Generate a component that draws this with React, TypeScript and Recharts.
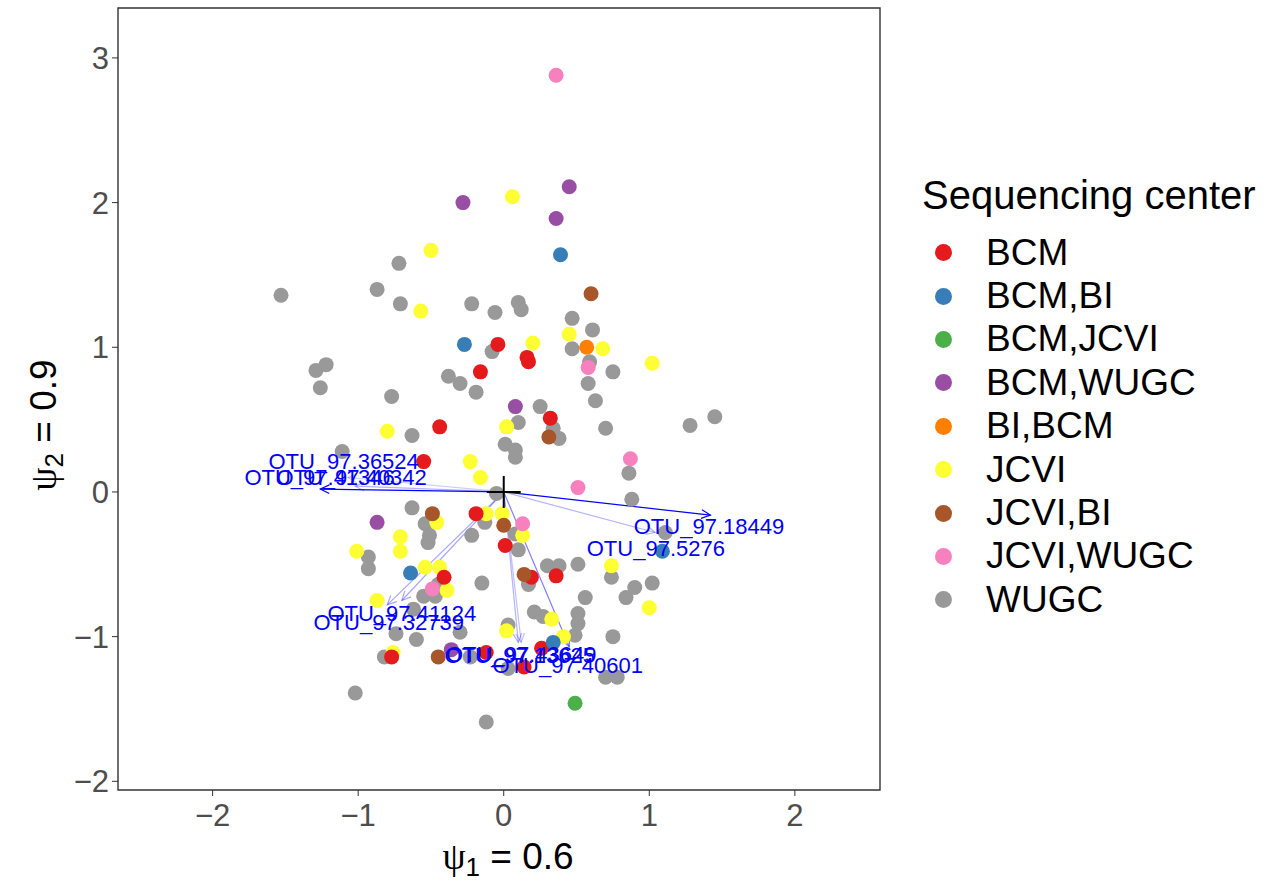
import React from 'react';
import { ScatterChart, Scatter, XAxis, YAxis, ReferenceLine, ReferenceArea } from 'recharts';

type Pt = { x: number; y: number };

const FONT = '"Liberation Sans", Arial, Helvetica, sans-serif';

// axis ranges and ticks
const X_MIN = -2.65;
const X_MAX = 2.585;
const Y_MIN = -2.06;
const Y_MAX = 3.345;
const xTicks = [-2, -1, 0, 1, 2];
const yTicks = [-2, -1, 0, 1, 2, 3];

// legend categories (Set1 palette)
const centers = ['BCM', 'BCM,BI', 'BCM,JCVI', 'BCM,WUGC', 'BI,BCM', 'JCVI', 'JCVI,BI', 'JCVI,WUGC', 'WUGC'];
const centerColors = ['#E41A1C', '#377EB8', '#4DAF4A', '#984EA3', '#FF7F00', '#FFFF33', '#A65628', '#F781BF', '#999999'];

// sample scores per sequencing center
const wugc: Pt[] = [
  { x: -1.53, y: 1.36 }, { x: -0.72, y: 1.58 }, { x: -0.87, y: 1.4 }, { x: -0.71, y: 1.3 },
  { x: -0.22, y: 1.3 }, { x: -0.06, y: 1.24 }, { x: 0.1, y: 1.31 }, { x: 0.12, y: 1.26 },
  { x: -0.08, y: 0.97 }, { x: 0.47, y: 1.2 }, { x: 0.61, y: 1.12 }, { x: 0.47, y: 0.99 },
  { x: 0.59, y: 0.9 }, { x: 0.58, y: 0.75 }, { x: 0.75, y: 0.83 }, { x: 0.63, y: 0.63 },
  { x: -1.29, y: 0.84 }, { x: -1.22, y: 0.88 }, { x: -1.26, y: 0.72 }, { x: -0.77, y: 0.66 },
  { x: -0.38, y: 0.8 }, { x: -0.3, y: 0.75 }, { x: -0.19, y: 0.69 }, { x: 0.25, y: 0.59 },
  { x: 0.1, y: 0.48 }, { x: 0.34, y: 0.44 }, { x: 0.38, y: 0.37 }, { x: 0.7, y: 0.44 },
  { x: 1.28, y: 0.46 }, { x: 1.45, y: 0.52 }, { x: 0.01, y: 0.33 }, { x: 0.08, y: 0.29 },
  { x: 0.08, y: 0.24 }, { x: -0.63, y: 0.39 }, { x: -1.11, y: 0.28 }, { x: 0.86, y: 0.13 },
  { x: 0.88, y: -0.05 }, { x: -0.05, y: -0.01 }, { x: -0.63, y: -0.11 }, { x: -0.54, y: -0.22 },
  { x: -0.51, y: -0.3 }, { x: -0.52, y: -0.35 }, { x: -0.93, y: -0.45 }, { x: -0.93, y: -0.53 },
  { x: -0.22, y: -0.3 }, { x: -0.13, y: -0.21 }, { x: 0.08, y: -0.29 }, { x: 0.1, y: -0.4 },
  { x: 0.17, y: -0.64 }, { x: -0.15, y: -0.63 }, { x: 0.3, y: -0.51 }, { x: 0.38, y: -0.51 },
  { x: 0.51, y: -0.5 }, { x: 0.74, y: -0.59 }, { x: 0.9, y: -0.66 }, { x: 1.02, y: -0.63 },
  { x: 0.84, y: -0.73 }, { x: 0.56, y: -0.73 }, { x: 0.51, y: -0.84 }, { x: 0.51, y: -0.91 },
  { x: 0.49, y: -0.99 }, { x: 0.75, y: -1.0 }, { x: 0.21, y: -0.83 }, { x: 0.27, y: -0.86 },
  { x: 0.03, y: -0.92 }, { x: -0.62, y: -0.81 }, { x: -0.6, y: -1.02 }, { x: -0.74, y: -0.98 },
  { x: -0.55, y: -0.72 }, { x: -0.47, y: -0.72 }, { x: -0.45, y: -0.64 }, { x: -0.3, y: -0.97 },
  { x: -0.82, y: -1.14 }, { x: 0.7, y: -1.28 }, { x: 0.78, y: -1.28 }, { x: 0.03, y: -1.22 },
  { x: -1.02, y: -1.39 }, { x: -0.12, y: -1.59 }, { x: 1.11, y: -0.28 }, { x: -0.23, y: -1.14 },
];
const jcvi: Pt[] = [
  { x: 0.06, y: 2.04 }, { x: -0.5, y: 1.67 }, { x: -0.57, y: 1.25 }, { x: 0.2, y: 1.03 },
  { x: 0.45, y: 1.09 }, { x: 0.68, y: 0.99 }, { x: 1.02, y: 0.89 }, { x: -0.8, y: 0.42 },
  { x: 0.02, y: 0.45 }, { x: -0.23, y: 0.21 }, { x: -0.16, y: 0.1 }, { x: -0.01, y: -0.15 },
  { x: -0.12, y: -0.15 }, { x: 0.13, y: -0.3 }, { x: -0.46, y: -0.21 }, { x: -0.71, y: -0.31 },
  { x: -0.71, y: -0.41 }, { x: -1.01, y: -0.41 }, { x: -0.54, y: -0.52 }, { x: -0.44, y: -0.52 },
  { x: -0.39, y: -0.68 }, { x: -0.87, y: -0.75 }, { x: 0.74, y: -0.51 }, { x: 1.0, y: -0.8 },
  { x: 0.33, y: -0.88 }, { x: 0.41, y: -1.0 }, { x: 0.02, y: -0.96 }, { x: -0.76, y: -1.11 },
];
const bcm: Pt[] = [
  { x: -0.04, y: 1.02 }, { x: -0.16, y: 0.83 }, { x: 0.16, y: 0.93 }, { x: 0.17, y: 0.9 },
  { x: 0.32, y: 0.51 }, { x: -0.44, y: 0.45 }, { x: -0.55, y: 0.21 }, { x: -0.19, y: -0.15 },
  { x: 0.01, y: -0.37 }, { x: 0.19, y: -0.59 }, { x: 0.36, y: -0.58 }, { x: -0.41, y: -0.59 },
  { x: -0.77, y: -1.14 }, { x: -0.12, y: -1.11 }, { x: 0.26, y: -1.08 }, { x: 0.14, y: -1.21 },
];
const bcmBi: Pt[] = [
  { x: 0.39, y: 1.64 }, { x: -0.27, y: 1.02 }, { x: -0.64, y: -0.56 }, { x: 1.09, y: -0.41 }, { x: 0.34, y: -1.04 },
];
const bcmJcvi: Pt[] = [{ x: 0.49, y: -1.46 }];
const bcmWugc: Pt[] = [
  { x: -0.28, y: 2.0 }, { x: 0.45, y: 2.11 }, { x: 0.36, y: 1.89 }, { x: 0.08, y: 0.59 }, { x: -0.87, y: -0.21 }, { x: -0.36, y: -1.09 },
];
const biBcm: Pt[] = [{ x: 0.57, y: 1.0 }];
const jcviBi: Pt[] = [
  { x: 0.6, y: 1.37 }, { x: 0.31, y: 0.38 }, { x: -0.49, y: -0.15 }, { x: 0.0, y: -0.23 }, { x: 0.14, y: -0.57 }, { x: -0.45, y: -1.14 },
];
const jcviWugc: Pt[] = [
  { x: 0.36, y: 2.88 }, { x: 0.58, y: 0.86 }, { x: 0.87, y: 0.23 }, { x: 0.51, y: 0.03 }, { x: 0.13, y: -0.22 }, { x: -0.49, y: -0.67 },
];

// OTU loadings (arrow tips), their weight and label positions
const otuNames = [
  'OTU_97.18449', 'OTU_97.5276', 'OTU_97.41346', 'OTU_97.40342', 'OTU_97.36524',
  'OTU_97.41124', 'OTU_97.32739', 'OTU_97.13625', 'OTU_97.43649', 'OTU_97.40601',
];
const otuX = [1.42, 1.04, -1.26, -1.02, -1.07, -0.7, -0.8, 0.1, 0.12, 0.45];
const otuY = [-0.16, -0.28, 0.02, 0.04, 0.1, -0.75, -0.78, -1.04, -1.04, -1.07];
const otuAlpha = [1, 0.3, 1, 0.3, 0.2, 0.35, 0.35, 0.3, 0.25, 0.5];
const otuLabelX = [1.41, 1.045, -1.265, -1.045, -1.1, -0.7, -0.79, 0.11, 0.12, 0.44];
const otuLabelY = [-0.24, -0.39, 0.1, 0.1, 0.21, -0.84, -0.9, -1.13, -1.12, -1.2];

const otuLabels = otuNames.map((name, i) => ({ name, x: otuLabelX[i], y: otuLabelY[i] }));
const origin: Pt[] = [{ x: 0, y: 0 }];

const groups: { data: Pt[]; color: string }[] = [
  { data: wugc, color: centerColors[8] },
  { data: jcvi, color: centerColors[5] },
  { data: bcm, color: centerColors[0] },
  { data: bcmBi, color: centerColors[1] },
  { data: bcmJcvi, color: centerColors[2] },
  { data: bcmWugc, color: centerColors[3] },
  { data: biBcm, color: centerColors[4] },
  { data: jcviBi, color: centerColors[6] },
  { data: jcviWugc, color: centerColors[7] },
];

const fmt = (v: number) => (v < 0 ? '\u2212' + Math.abs(v) : String(v));

const dot = (color: string) => (p: any) => <circle cx={p.cx} cy={p.cy} r={7.5} fill={color} />;

const ArrowShape = (p: any) => {
  const { x1, y1, x2, y2, stroke, strokeOpacity } = p;
  const ang = Math.atan2(y2 - y1, x2 - x1);
  const L = 10;
  const a = Math.PI / 7;
  const ax = x2 - L * Math.cos(ang - a);
  const ay = y2 - L * Math.sin(ang - a);
  const bx = x2 - L * Math.cos(ang + a);
  const by = y2 - L * Math.sin(ang + a);
  return (
    <g stroke={stroke} strokeOpacity={strokeOpacity} strokeWidth={1.2} fill="none">
      <line x1={x1} y1={y1} x2={x2} y2={y2} />
      <polyline points={`${ax},${ay} ${x2},${y2} ${bx},${by}`} />
    </g>
  );
};

const LabelShape = (p: any) => (
  <text x={p.cx} y={p.cy} textAnchor="middle" dominantBaseline="central" fill="#0000FF" fontSize={22} fontFamily={FONT}>
    {p.payload.name}
  </text>
);

const CrossShape = (p: any) => (
  <g stroke="#000" strokeWidth={2}>
    <line x1={p.cx - 17} y1={p.cy} x2={p.cx + 17} y2={p.cy} />
    <line x1={p.cx} y1={p.cy - 16} x2={p.cx} y2={p.cy + 16} />
  </g>
);

const XTitle = () => (
  <text x={508} y={869} textAnchor="middle" fontSize={37} fontFamily={FONT} fill="#000">
    <tspan fontFamily='"Liberation Serif", serif'>ψ</tspan>
    <tspan fontSize={26} dy={7}>1</tspan>
    <tspan dy={-7}> = 0.6</tspan>
  </text>
);

const YTitle = () => (
  <text x={56} y={425} transform="rotate(-90, 56, 425)" textAnchor="middle" fontSize={37} fontFamily={FONT} fill="#000">
    <tspan fontFamily='"Liberation Serif", serif'>ψ</tspan>
    <tspan fontSize={26} dy={7}>2</tspan>
    <tspan dy={-7}> = 0.9</tspan>
  </text>
);

function Legend() {
  return (
    <div style={{ position: 'absolute', left: 922, top: 170, fontFamily: FONT, color: '#000' }}>
      <div style={{ fontSize: 40, lineHeight: '50px', whiteSpace: 'nowrap' }}>Sequencing center</div>
      <div style={{ position: 'absolute', top: 61, left: 0 }}>
        {centers.map((c, i) => (
          <div key={c} style={{ display: 'flex', alignItems: 'center', height: 43.4 }}>
            <span style={{ display: 'inline-block', width: 17, height: 17, borderRadius: '50%', background: centerColors[i], marginLeft: 12.5 }} />
            <span style={{ fontSize: 37, marginLeft: 34.5, whiteSpace: 'nowrap' }}>{c}</span>
          </div>
        ))}
      </div>
    </div>
  );
}

export default function App() {
  return (
    <div style={{ position: 'relative', width: 1272, height: 882, background: '#fff' }}>
      <style>{'body{margin:0}'}</style>
      <ScatterChart width={1272} height={882} margin={{ top: 8, right: 392, bottom: 0, left: 0 }}>
        <ReferenceArea
          x1={X_MIN}
          x2={X_MAX}
          y1={Y_MIN}
          y2={Y_MAX}
          fill="#fff"
          fillOpacity={0}
          stroke="#333333"
          strokeWidth={1.4}
          ifOverflow="visible"
        />
        <XAxis
          type="number"
          dataKey="x"
          domain={[X_MIN, X_MAX]}
          ticks={xTicks}
          allowDataOverflow
          height={92}
          axisLine={false}
          tickSize={6}
          tickMargin={8}
          tickLine={{ stroke: '#333333' }}
          tickFormatter={fmt}
          tick={{ fill: '#4D4D4D', fontSize: 31, fontFamily: FONT }}
          label={{ content: () => <XTitle /> }}
        />
        <YAxis
          type="number"
          dataKey="y"
          domain={[Y_MIN, Y_MAX]}
          ticks={yTicks}
          allowDataOverflow
          width={118}
          axisLine={false}
          tickSize={6}
          tickMargin={3}
          tickLine={{ stroke: '#333333' }}
          tickFormatter={fmt}
          tick={{ fill: '#4D4D4D', fontSize: 31, fontFamily: FONT }}
          label={{ content: () => <YTitle /> }}
        />
        {groups.map((g, i) => (
          <Scatter key={i} data={g.data} shape={dot(g.color)} isAnimationActive={false} />
        ))}
        <Scatter data={origin} shape={CrossShape} isAnimationActive={false} />
        {otuNames.map((n, i) => (
          <ReferenceLine
            key={n}
            segment={[{ x: 0, y: 0 }, { x: otuX[i], y: otuY[i] }]}
            stroke="#0000FF"
            strokeOpacity={otuAlpha[i]}
            ifOverflow="visible"
            shape={ArrowShape}
          />
        ))}
        <Scatter data={otuLabels} shape={LabelShape} isAnimationActive={false} />
      </ScatterChart>
      <Legend />
    </div>
  );
}
